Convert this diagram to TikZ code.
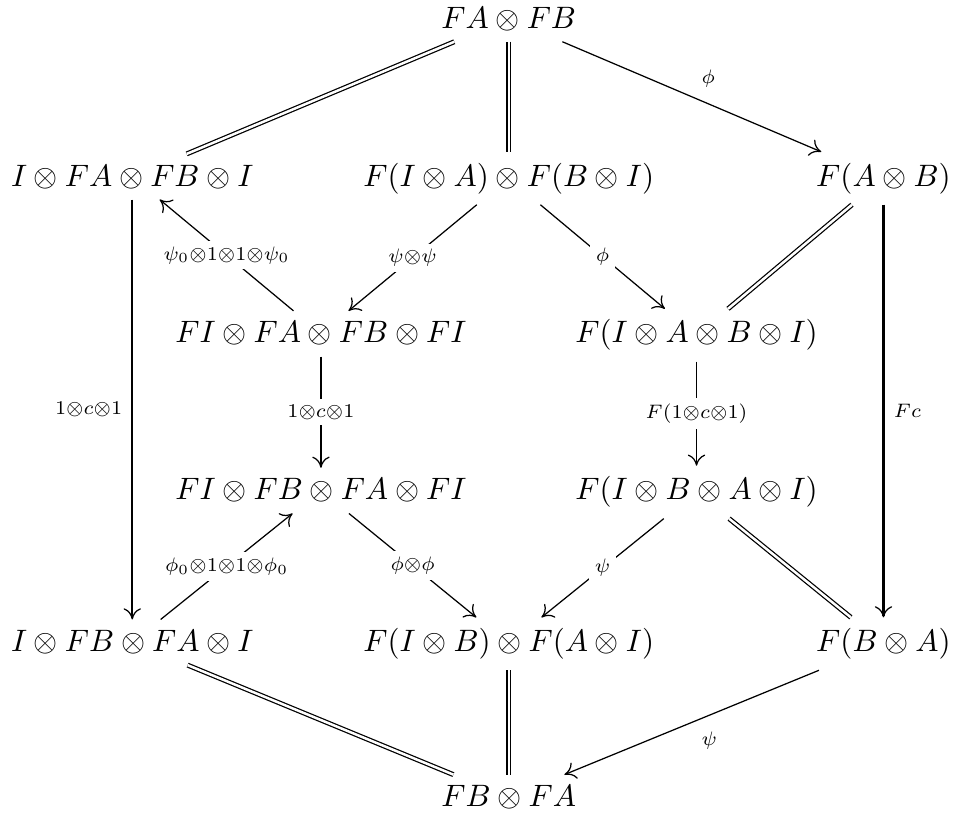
\documentclass[tikz,border=0pt]{standalone}
\usepackage{tikz}
\usetikzlibrary{arrows.meta,calc}

\begin{document}
\begin{tikzpicture}[
    obj/.style={anchor=base},
    eq/.style={double, double distance=0.8pt},
    map/.style={-{To[length=3.6pt,width=5.6pt,line width=0.4pt]}},
    lab/.style={scale=0.9},
    desc/.style={midway, fill=white, inner sep=2pt, scale=0.9}
  ]
    \useasboundingbox (0,0) rectangle (10.82,-9.24);

    \node[obj] (fab) at (5.77,-0.32) {$FA\otimes FB$};

    \node[obj] (ifabi) at (1.50,-2.11) {$I\otimes FA\otimes FB\otimes I$};
    \node[obj] (fiafbi) at (5.77,-2.11) {$F(I\otimes A)\otimes F(B\otimes I)$};
    \node[obj] (fatb) at (10.02,-2.11) {$F(A\otimes B)$};

    \node[obj] (fifafbfi) at (3.64,-3.89) {$FI\otimes FA\otimes FB\otimes FI$};
    \node[obj] (fiabi) at (7.90,-3.89) {$F(I\otimes A\otimes B\otimes I)$};

    \node[obj] (fifbfafi) at (3.64,-5.67) {$FI\otimes FB\otimes FA\otimes FI$};
    \node[obj] (fibai) at (7.90,-5.67) {$F(I\otimes B\otimes A\otimes I)$};

    \node[obj] (ifbfai) at (1.50,-7.39) {$I\otimes FB\otimes FA\otimes I$};
    \node[obj] (fibfai) at (5.77,-7.39) {$F(I\otimes B)\otimes F(A\otimes I)$};
    \node[obj] (fbta) at (10.02,-7.39) {$F(B\otimes A)$};

    \node[obj] (fbfa) at (5.77,-9.15) {$FB\otimes FA$};

    \draw[eq] (fab) -- (ifabi);
    \draw[eq] (fab) -- (fiafbi);
    \draw[map] (fab) -- node[auto, lab] {$\scriptstyle\phi$} (fatb);

    \draw[map, semithick] (ifabi) -- node[midway, left, lab] {$\scriptstyle1\otimes c\otimes1$} (ifbfai);
    \draw[map] (fifafbfi) -- node[desc] {$\scriptstyle\psi_0\otimes1\otimes1\otimes\psi_0$} (ifabi);
    \draw[map] (fiafbi) -- node[desc] {$\scriptstyle\psi\otimes\psi$} (fifafbfi);
    \draw[map] (fiafbi) -- node[desc] {$\scriptstyle\phi$} (fiabi);
    \draw[eq] (fatb) -- (fiabi);
    \draw[map, thick] (fatb) -- node[midway, right, lab] {$\scriptstyle Fc$} (fbta);

    \draw[map] (fifafbfi) -- node[desc] {$\scriptstyle1\otimes c\otimes1$} (fifbfafi);
    \draw[map] (fiabi) -- node[desc] {$\scriptstyle F(1\otimes c\otimes1)$} (fibai);

    \draw[map] (ifbfai) -- node[desc] {$\scriptstyle\phi_0\otimes1\otimes1\otimes\phi_0$} (fifbfafi);
    \draw[map] (fifbfafi) -- node[desc] {$\scriptstyle\phi\otimes\phi$} (fibfai);
    \draw[map] (fibai) -- node[desc] {$\scriptstyle\psi$} (fibfai);
    \draw[eq] (fibai) -- (fbta);

    \draw[eq] (ifbfai) -- (fbfa);
    \draw[eq] (fibfai) -- (fbfa);
    \draw[map] (fbta) -- node[auto, lab] {$\scriptstyle\psi$} (fbfa);
\end{tikzpicture}
\end{document}
